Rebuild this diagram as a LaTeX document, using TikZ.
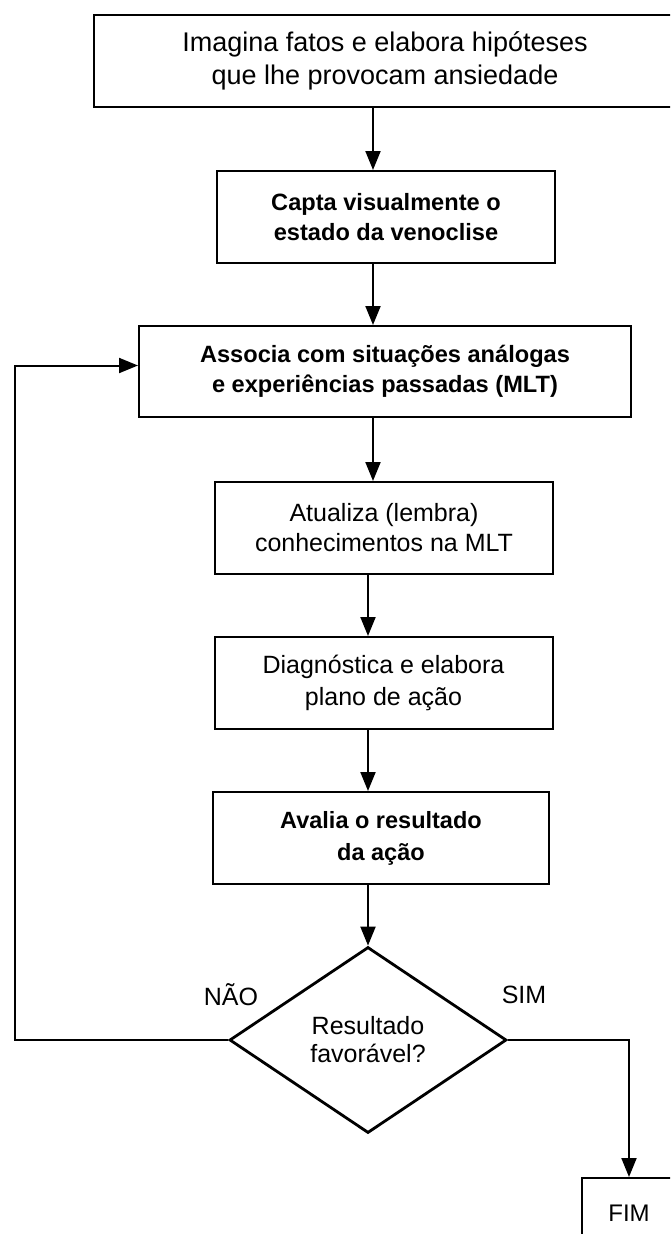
\documentclass[tikz,border=0pt]{standalone}
\usepackage{fontspec}
\setmainfont{Liberation Sans}
\usepackage{tikz}
\usetikzlibrary{positioning, arrows.meta, calc, shapes.geometric}

\begin{document}
\begin{tikzpicture}[x=1pt, y=-1pt,
    caixa/.style={draw, line width=2pt, align=center, inner sep=0pt,
                  minimum width=338pt, minimum height=92pt,
                  font=\fontsize{25}{30}\selectfont},
    caixanegrito/.style={caixa, font=\fontsize{23.6}{30}\selectfont\bfseries},
    seta/.style={line width=2pt, -{Triangle[length=19pt, width=15pt]}},
    rotulo/.style={font=\fontsize{25}{30}\selectfont, inner sep=0pt}]
  \useasboundingbox (0,0) rectangle (670,1234);
  \clip (0,0) rectangle (670,1234);

  % eixos das setas
  \coordinate (eixo) at (373,0);
  \coordinate (eixob) at (368,0);
  \coordinate (retorno) at (15,0);

  \node[caixa, minimum width=582pt, font=\fontsize{27}{33}\selectfont] (imagina) at (385,61)
    {Imagina fatos e elabora hipóteses\\que lhe provocam ansiedade};
  \node[caixanegrito] (capta) at (386,217) {Capta visualmente o\\estado da venoclise};
  \node[caixanegrito, minimum width=492pt, minimum height=91pt] (associa) at (385,371.5)
    {Associa com situações análogas\\e experiências passadas (MLT)};
  \node[caixa] (atualiza) at (384,528) {Atualiza (lembra)\\conhecimentos na MLT};
  \node[caixa, font=\fontsize{25}{32}\selectfont] (diagnostica) at (383.5,683)
    {Diagnóstica e elabora\\plano de ação};
  \node[caixanegrito, minimum width=336pt, font=\fontsize{23.5}{32}\selectfont\bfseries] (avalia) at (381,838)
    {Avalia o resultado\\da ação};
  \node[diamond, draw, line width=2.8pt, align=center, inner sep=0pt,
        minimum width=277pt, minimum height=186pt,
        font=\fontsize{25}{28}\selectfont] (decisao) at (368,1040) {Resultado\\favorável?};
  \node[caixa, minimum width=94pt, minimum height=70pt, font=\fontsize{24}{30}\selectfont] (fim) at (629,1213) {FIM};

  \node[rotulo] (nao) at (231,995) {NÃO};
  \node[rotulo] (sim) at (524,995) {SIM};

  \draw[seta] (imagina.south -| eixo) -- (capta.north -| eixo);
  \draw[seta] (capta.south -| eixo) -- (associa.north -| eixo);
  \draw[seta] (associa.south -| eixo) -- (atualiza.north -| eixo);
  \draw[seta] (atualiza.south -| eixob) -- (diagnostica.north -| eixob);
  \draw[seta] (diagnostica.south -| eixob) -- (avalia.north -| eixob);
  \draw[seta] (avalia.south -| eixob) -- (decisao.north);

  % laço de volta e saída
  \draw[seta] (decisao.west) -- (decisao.west -| retorno) |- ($(associa.west)+(0,-6)$);
  \draw[seta] (decisao.east) -| (fim.north);
\end{tikzpicture}
\end{document}
